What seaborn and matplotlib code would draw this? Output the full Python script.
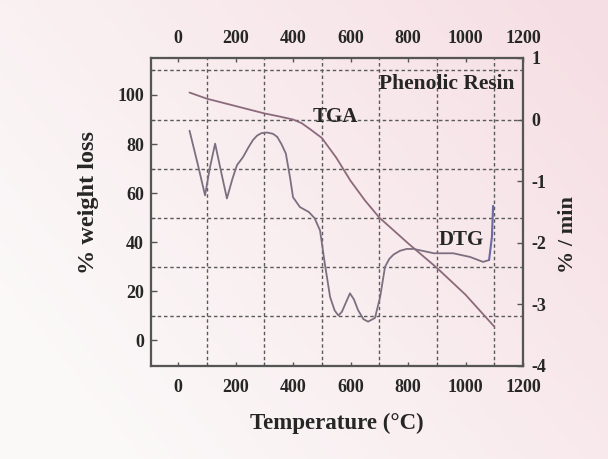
import numpy as np
import matplotlib
matplotlib.use("Agg")
import matplotlib.pyplot as plt
import seaborn as sns

# ---- data ----
tga_temp = [40, 100, 200, 300, 350, 400, 430, 460, 500, 550, 600, 650, 700, 800, 900, 1000, 1100]
tga_wt = [101, 98.5, 95.5, 92.5, 91.3, 90.0, 88.5, 86.0, 82.5, 74.5, 65, 57, 50, 39.5, 29.5, 18.5, 5.5]

dtg_temp = [40, 70, 94, 110, 129, 150, 170, 190, 205, 226, 245, 261, 275, 290, 310, 330, 345,
            360, 375, 390, 400, 424, 455, 475, 494, 511, 529, 545, 558, 570, 598, 612, 626,
            645, 661, 685, 703, 720, 735, 750, 772, 795, 820, 850, 890, 957, 1016, 1061,
            1082, 1092, 1096]
dtg_rate = [-0.18, -0.75, -1.23, -0.8, -0.39, -0.85, -1.28, -0.95, -0.74, -0.61, -0.45, -0.33,
            -0.26, -0.22, -0.21, -0.23, -0.28, -0.4, -0.55, -0.95, -1.26, -1.42, -1.5, -1.6,
            -1.8, -2.35, -2.88, -3.1, -3.18, -3.12, -2.82, -2.92, -3.09, -3.24, -3.28, -3.22,
            -2.88, -2.39, -2.26, -2.19, -2.13, -2.1, -2.1, -2.13, -2.17, -2.17, -2.23, -2.31,
            -2.28, -1.9, -1.4]

x_ticks = [0, 200, 400, 600, 800, 1000, 1200]
left_ticks = [0, 20, 40, 60, 80, 100]
right_ticks = [-4, -3, -2, -1, 0, 1]
x_grid = [100, 300, 500, 700, 900, 1100]
y_grid = [10, 30, 50, 70, 90, 110]

sns.set_theme(style="white")
plt.rcParams['font.family'] = ['Liberation Serif', 'DejaVu Serif']
plt.rcParams['font.weight'] = 'bold'

W, H = 608, 459
fig = plt.figure(figsize=(W / 100, H / 100), dpi=100)

# scanned-paper background
bg = fig.add_axes([0, 0, 1, 1], zorder=-10)
gx, gy = np.meshgrid(np.linspace(0, 1, 200), np.linspace(0, 1, 150))
t = np.clip(0.75 * gx + 0.45 * (1 - gy) - 0.15, 0, 1)
white = np.array([0.985, 0.975, 0.975])
pink = np.array([0.965, 0.875, 0.895])
img = white[None, None, :] + (pink - white)[None, None, :] * t[..., None]
bg.imshow(img, aspect='auto', extent=[0, 1, 0, 1], origin='upper')
bg.axis('off')

L, R, B, T = 151, 523, 366, 58
ax = fig.add_axes([L / W, 1 - B / H, (R - L) / W, (B - T) / H])
ax.set_facecolor('none')

line_col = '#7d6f7f'
tga_col = '#8c6a7c'
grid_col = '#5a5a5a'
spine_col = '#555555'
txt_col = '#262626'

sns.lineplot(x=tga_temp, y=tga_wt, ax=ax, color=tga_col, lw=1.3)
ax.set_xlim(-94, 1200)
ax.set_ylim(-10.6, 115.1)

ax2 = ax.twinx()
sns.lineplot(x=dtg_temp[:-2], y=dtg_rate[:-2], ax=ax2, color=line_col, lw=1.3)
sns.lineplot(x=dtg_temp[-3:], y=dtg_rate[-3:], ax=ax2, color='#6b68a8', lw=1.5)
ax2.set_ylim(-4, 1)
ax2.set_xlim(-94, 1200)

ax3 = ax.twiny()
ax3.set_xlim(-94, 1200)

# ticks
ax.set_xticks(x_ticks)
ax.set_xticklabels([str(v) for v in x_ticks])
ax.set_yticks(left_ticks)
ax.set_yticklabels([str(v) for v in left_ticks])
ax.set_xticks(x_grid, minor=True)
ax.set_yticks(y_grid, minor=True)
ax.grid(which='minor', color=grid_col, ls=(0, (2.5, 2.0)), lw=1.0)
ax.grid(which='major', visible=False)

ax2.set_yticks(right_ticks)
ax2.set_yticklabels([str(v) for v in right_ticks])
ax2.grid(False)
ax3.set_xticks(x_ticks)
ax3.set_xticklabels([str(v) for v in x_ticks])
ax3.grid(False)

fs_tick = 13
ax.tick_params(axis='x', which='major', direction='in', length=3, width=1, color=spine_col,
               labelsize=fs_tick, pad=9, labelcolor=txt_col, bottom=True)
ax.tick_params(axis='y', which='major', direction='in', length=4, width=1, color=spine_col,
               labelsize=fs_tick, pad=5, labelcolor=txt_col, left=True)
ax.tick_params(which='minor', direction='in', length=3, width=0.8, color=spine_col,
               bottom=True, left=True)
ax2.tick_params(axis='y', direction='in', length=4, width=1, color=spine_col,
                labelsize=fs_tick, pad=6, labelcolor=txt_col, right=True)
ax3.tick_params(axis='x', direction='in', length=3, width=1, color=spine_col,
                labelsize=fs_tick, pad=8, labelcolor=txt_col, top=True)

for a in (ax, ax2, ax3):
    for s in a.spines.values():
        s.set_color(spine_col)
        s.set_linewidth(1.5)

ax.set_xlabel('Temperature (°C)', fontsize=16.5, color=txt_col, fontweight='bold')
ax.xaxis.set_label_coords((337 - L) / (R - L), 1 - (413 - T) / (B - T))
ax.set_ylabel('% weight loss', fontsize=17.5, color=txt_col, fontweight='bold')
ax.yaxis.set_label_coords((99 - L) / (R - L), 1 - (202 - T) / (B - T))
ax2.set_ylabel('% / min', fontsize=16, color=txt_col, rotation=90, fontweight='bold')
ax2.yaxis.set_label_coords((558 - L) / (R - L), 1 - (235 - T) / (B - T))

ax.text(1170, 104.3, 'Phenolic Resin', fontsize=15.5, ha='right', va='center',
        color=txt_col, fontweight='bold')
ax.text(547, 91, 'TGA', fontsize=15, ha='center', va='center', color=txt_col, fontweight='bold')
ax.text(985, 40.8, 'DTG', fontsize=15, ha='center', va='center', color=txt_col, fontweight='bold')

fig.savefig('out.png', dpi=100)
